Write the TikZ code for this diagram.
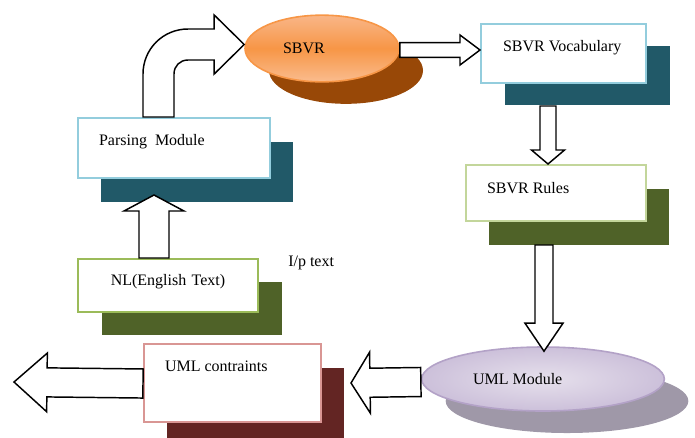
\documentclass[tikz,border=0pt]{standalone}
\usepackage{fontspec}
\setmainfont{Liberation Serif}
\usetikzlibrary{positioning, calc, shapes.geometric, shadows}

\definecolor{tealshade}{HTML}{215968}
\definecolor{oliveshade}{HTML}{4F6228}
\definecolor{wineshade}{HTML}{632523}
\definecolor{brownshade}{HTML}{984807}
\definecolor{greyshade}{HTML}{9F98A8}
\definecolor{blueline}{HTML}{93CDDD}
\definecolor{greenline}{HTML}{9BBB59}
\definecolor{paleline}{HTML}{C3D69B}
\definecolor{pinkline}{HTML}{D99694}
\definecolor{orangemid}{HTML}{F79646}
\definecolor{orangetop}{HTML}{F9B688}
\definecolor{orangebot}{HTML}{FABC8E}
\definecolor{lilacline}{HTML}{B3A2C7}
\definecolor{lilacmid}{HTML}{E6E0EC}
\definecolor{lilacedge}{HTML}{CCC0DA}

% block arrow: {from}{to}{half shaft}{half head}{head length}
\newcommand{\blockarrow}[5]{%
    \coordinate (ba-s) at (#1);
    \coordinate (ba-e) at (#2);
    \coordinate (ba-h) at ($(ba-e)!#5!(ba-s)$);
    \draw[hollow] ($(ba-s)!#3!90:(ba-e)$) -- ($(ba-h)!#3!90:(ba-e)$)
        -- ($(ba-h)!#4!90:(ba-e)$) -- (ba-e) -- ($(ba-h)!#4!-90:(ba-e)$)
        -- ($(ba-h)!#3!-90:(ba-e)$) -- ($(ba-s)!#3!-90:(ba-e)$) -- cycle;
}

\begin{document}
\begin{tikzpicture}[
        x=0.75pt, y=-0.75pt,
        font=\fontsize{12}{14}\selectfont,
        modbox/.style={draw, line width=1.5pt, fill=white, anchor=north west,
            align=flush left, inner ysep=0pt, text height=9pt},
        blob/.style={ellipse, draw, line width=1.2pt, align=flush left, inner sep=0pt},
        hollow/.style={draw=black, fill=white, line width=1.1pt, line join=miter}
    ]
    \useasboundingbox (0,0) rectangle (695,437);

    % modules with their offset shadows
    \node[modbox, draw=blueline, minimum width=144pt, minimum height=45pt,
        inner xsep=15.75pt, text width=112.5pt, text depth=13.5pt,
        general shadow={shadow xshift=17.25pt, shadow yshift=-18pt, fill=tealshade}]
        (parse) at (77,117) {Parsing\ \ Module};
    \node[modbox, draw=blueline, minimum width=123.75pt, minimum height=44.25pt,
        inner xsep=16.5pt, text width=90.75pt, text depth=12.75pt,
        general shadow={shadow xshift=18pt, shadow yshift=-16.5pt, fill=tealshade}]
        (vocab) at (480,23) {SBVR Vocabulary};
    \node[modbox, draw=paleline, minimum width=135pt, minimum height=42pt,
        inner xsep=15.75pt, text width=103.5pt, text depth=9pt,
        general shadow={shadow xshift=17.25pt, shadow yshift=-18pt, fill=oliveshade}]
        (rules) at (465,164) {SBVR Rules};
    \node[modbox, draw=greenline, minimum width=135pt, minimum height=39.75pt,
        inner xsep=0pt, text width=135pt, align=center, text depth=9pt,
        general shadow={shadow xshift=18pt, shadow yshift=-17.25pt, fill=oliveshade}]
        (nl) at (77,258) {NL(English Text)};
    \node[modbox, draw=pinkline, minimum width=132.75pt, minimum height=58.5pt,
        inner xsep=15.75pt, text width=101.25pt, text depth=27pt,
        general shadow={shadow xshift=17.25pt, shadow yshift=-18pt, fill=wineshade}]
        (cons) at (143,343) {UML contraints};

    \node[blob, draw=orangemid, minimum width=115.5pt, minimum height=50pt,
        text width=58.5pt, top color=orangetop, bottom color=orangebot,
        middle color=orangemid,
        general shadow={shadow xshift=18pt, shadow yshift=-16.5pt, fill=brownshade}]
        (sbvr) at (322,48.5) {SBVR};
    \node[blob, draw=lilacline, minimum width=182pt, minimum height=48pt,
        text width=105pt, inner color=lilacmid, outer color=lilacedge,
        general shadow={shadow xshift=18pt, shadow yshift=-16.5pt, fill=greyshade}]
        (umlmod) at (543,379) {UML Module};

    \node[anchor=base west, inner sep=0pt] (iptext) at (288,266) {I/p text};

    % flow between the modules
    \blockarrow{$(nl.north west)+(77,0)$}{$(parse.south west)+(77,16)$}{11.25pt}{22.5pt}{12pt}
    \coordinate (bend) at ($(parse.north west)+(66,0)$);
    \coordinate (tip) at ($(sbvr.west)+(0,-4)$);
    \draw[hollow] (bend) -- ++(0,-43) .. controls +(0,-25) and +(-25,0) .. ++(45,-45)
        -- ($(tip)+(-30,-15.5)$) -- ($(tip)+(-30,-29.5)$) -- (tip)
        -- ($(tip)+(-30,29.5)$) -- ($(tip)+(-30,15.5)$) -- ($(bend)+(45,-57)$)
        .. controls +(-8,0) and +(0,-8) .. ($(bend)+(31,-43)$) -- ($(bend)+(31,0)$) -- cycle;
    \blockarrow{$(sbvr.east)+(0,1.5)$}{$(vocab.north west)+(0,27)$}{5.6pt}{11.25pt}{15pt}
    \blockarrow{$(vocab.south west)+(68,22)$}{$(rules.north west)+(83,0)$}{6pt}{12.4pt}{10.5pt}
    \blockarrow{$(rules.south west)+(79,23)$}{$(umlmod.north)+(1,5)$}{6.75pt}{14.25pt}{21pt}
    \blockarrow{$(umlmod.west)+(0,3)$}{$(cons.east)+(29,0)$}{10.9pt}{22.9pt}{14.25pt}
    \coordinate (out) at (14,382);
    \blockarrow{$(cons.west)+(0,0.5)$}{out}{10.9pt}{22pt}{24.75pt}
\end{tikzpicture}
\end{document}
